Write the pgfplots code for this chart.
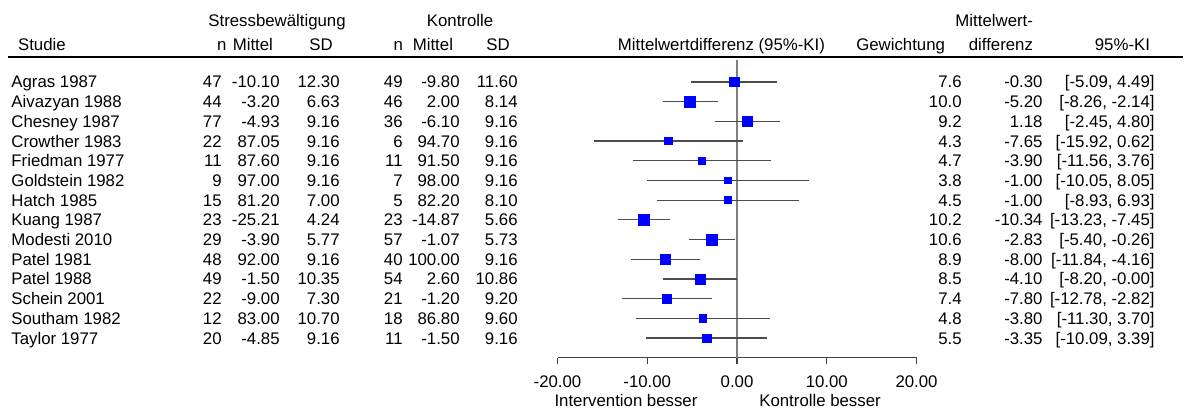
\documentclass[border=0pt]{standalone}
\usepackage{pgfplots}
\pgfplotsset{compat=1.18}
\usepackage{pgfplotstable}
\usepackage{fontspec}
\setmainfont{Liberation Sans}

\pgfplotstableread[col sep=semicolon]{
row;study;n1;m1;sd1;n2;m2;sd2;w;md;lo;hi;ci
1;Agras 1987;47;-10.10;12.30;49;-9.80;11.60;7.6;-0.30;-5.09;4.49;[-5.09, 4.49]
2;Aivazyan 1988;44;-3.20;6.63;46;2.00;8.14;10.0;-5.20;-8.26;-2.14;[-8.26, -2.14]
3;Chesney 1987;77;-4.93;9.16;36;-6.10;9.16;9.2;1.18;-2.45;4.80;[-2.45, 4.80]
4;Crowther 1983;22;87.05;9.16;6;94.70;9.16;4.3;-7.65;-15.92;0.62;[-15.92, 0.62]
5;Friedman 1977;11;87.60;9.16;11;91.50;9.16;4.7;-3.90;-11.56;3.76;[-11.56, 3.76]
6;Goldstein 1982;9;97.00;9.16;7;98.00;9.16;3.8;-1.00;-10.05;8.05;[-10.05, 8.05]
7;Hatch 1985;15;81.20;7.00;5;82.20;8.10;4.5;-1.00;-8.93;6.93;[-8.93, 6.93]
8;Kuang 1987;23;-25.21;4.24;23;-14.87;5.66;10.2;-10.34;-13.23;-7.45;[-13.23, -7.45]
9;Modesti 2010;29;-3.90;5.77;57;-1.07;5.73;10.6;-2.83;-5.40;-0.26;[-5.40, -0.26]
10;Patel 1981;48;92.00;9.16;40;100.00;9.16;8.9;-8.00;-11.84;-4.16;[-11.84, -4.16]
11;Patel 1988;49;-1.50;10.35;54;2.60;10.86;8.5;-4.10;-8.20;-0.00;[-8.20, -0.00]
12;Schein 2001;22;-9.00;7.30;21;-1.20;9.20;7.4;-7.80;-12.78;-2.82;[-12.78, -2.82]
13;Southam 1982;12;83.00;10.70;18;86.80;9.60;4.8;-3.80;-11.30;3.70;[-11.30, 3.70]
14;Taylor 1977;20;-4.85;9.16;11;-1.50;9.16;5.5;-3.35;-10.09;3.39;[-10.09, 3.39]
}\studies

\newcommand{\fs}{\fontsize{8.4}{10}\selectfont}

% one text column of the table, anchored on its #1 side
\pgfplotsset{
  txtcol/.style={
    only marks, mark=*, mark size=0pt, mark options={draw=none, fill=none},
    nodes near coords, point meta=explicit symbolic,
    every node near coord/.append style={anchor=base #1, inner sep=0pt,
      yshift=-3pt, text=black, font=\fs},
  },
}

\begin{document}
\begin{tikzpicture}[font=\fs]
\begin{axis}[
    scale only axis,
    width=179.5pt,
    height=148.93pt,
    xmin=-20, xmax=20,
    ymin=-15, ymax=0.12,
    clip=false,
    axis x line*=bottom,
    axis y line=none,
    x axis line style={-, draw=black!75, line width=0.6pt},
    xtick={-20,-10,0,10,20},
    xticklabels={-20.00,-10.00,0.00,10.00,20.00},
    xtick style={draw=black!75, line width=0.6pt},
    tick align=outside,
    major tick length=3pt,
    xticklabel style={anchor=base, yshift=-12pt, font=\fs},
    ytick=\empty,
]

% page extent
\path (axis cs:-82.12,3.162) rectangle (axis cs:50.47,-17.548);

% reference line at zero
\addplot[black!50, line width=0.6pt] coordinates {(0,-15) (0,0.12)};

% squares, side grows with the weight
\addplot[only marks, mark=square*, blue,
    scatter, scatter/use mapped color={draw=blue, fill=blue},
    visualization depends on={0.87*sqrt(\thisrow{w}) \as \msize},
    scatter/@pre marker code/.append style={/tikz/mark size=\msize}]
    table[x=md, y expr=-\thisrow{row}] {\studies};

% confidence intervals
\addplot[draw=none, mark=none,
    error bars/.cd, x dir=both, x explicit, error mark=none,
    error bar style={draw=black!70, line width=0.6pt}]
    table[x=md, y expr=-\thisrow{row},
          x error plus expr=\thisrow{hi}-\thisrow{md},
          x error minus expr=\thisrow{md}-\thisrow{lo}] {\studies};

% table columns
\addplot[txtcol=west] table[x expr=-80.89, y expr=-\thisrow{row}, meta=study] {\studies};
\addplot[txtcol=east] table[x expr=-57.38, y expr=-\thisrow{row}, meta=n1] {\studies};
\addplot[txtcol=east] table[x expr=-50.92, y expr=-\thisrow{row}, meta=m1] {\studies};
\addplot[txtcol=east] table[x expr=-44.23, y expr=-\thisrow{row}, meta=sd1] {\studies};
\addplot[txtcol=east] table[x expr=-37.21, y expr=-\thisrow{row}, meta=n2] {\studies};
\addplot[txtcol=east] table[x expr=-30.86, y expr=-\thisrow{row}, meta=m2] {\studies};
\addplot[txtcol=east] table[x expr=-24.40, y expr=-\thisrow{row}, meta=sd2] {\studies};
\addplot[txtcol=east] table[x expr=25.07, y expr=-\thisrow{row}, meta=w] {\studies};
\addplot[txtcol=east] table[x expr=34.09, y expr=-\thisrow{row}, meta=md] {\studies};
\addplot[txtcol=east] table[x expr=46.57, y expr=-\thisrow{row}, meta=ci] {\studies};

% headers
\node[anchor=base] at (axis cs:-51.25,1.84) {Stressbewältigung};
\node[anchor=base] at (axis cs:-30.86,1.84) {Kontrolle};
\node[anchor=base east] at (axis cs:33.76,1.84) {Mittelwert-};
\node[anchor=base west] at (axis cs:-80.89,0.62) {Studie};
\node[anchor=base] at (axis cs:-57.40,0.62) {n};
\node[anchor=base east] at (axis cs:-50.92,0.62) {Mittel};
\node[anchor=base] at (axis cs:-46.35,0.62) {SD};
\node[anchor=base] at (axis cs:-37.75,0.62) {n};
\node[anchor=base east] at (axis cs:-30.86,0.62) {Mittel};
\node[anchor=base] at (axis cs:-26.63,0.62) {SD};
\node[anchor=base east] at (axis cs:10.58,0.62) {Mittelwertdifferenz (95\%-KI)};
\node[anchor=base east] at (axis cs:23.96,0.62) {Gewichtung};
\node[anchor=base east] at (axis cs:33.76,0.62) {differenz};
\node[anchor=base east] at (axis cs:46.80,0.62) {95\%-KI};
\draw[black, line width=0.6pt] (axis cs:-81.23,0.27) -- (axis cs:49.69,0.27);

% direction labels
\node[anchor=base] at (axis cs:-12.37,-17.45) {Intervention besser};
\node[anchor=base] at (axis cs:9.25,-17.45) {Kontrolle besser};

\end{axis}
\end{tikzpicture}
\end{document}
